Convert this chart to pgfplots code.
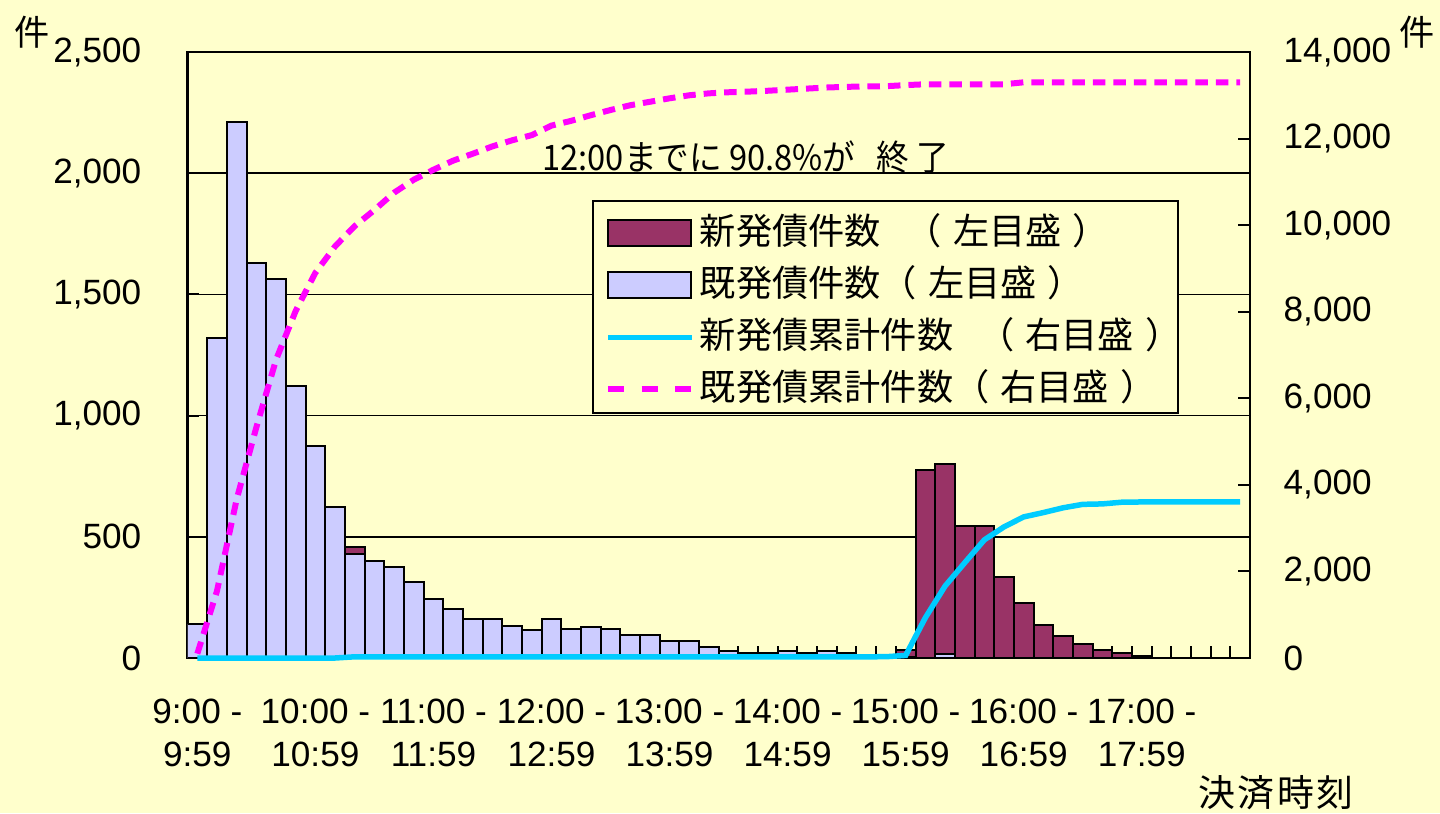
\documentclass[border=0pt]{standalone}
\usepackage{pgfplots}
\usepackage{pgfplotstable}
\pgfplotsset{compat=1.18}
\usepackage{fontspec}
\setmainfont{Liberation Sans}
\newfontfamily\jp{Noto Sans CJK JP}

\definecolor{bgc}{RGB}{255,255,204}
\definecolor{newc}{RGB}{153,51,102}
\definecolor{oldc}{RGB}{204,204,255}
\definecolor{cumnew}{RGB}{0,204,255}
\definecolor{cumold}{RGB}{255,0,255}

% 10-minute bins, 9:00 - 17:59
\pgfplotstableread{
bin old new cumold cumnew
1 140 0 100 0
2 1322 0 1550 0
3 2210 0 3670 0
4 1628 0 5330 0
5 1563 0 6890 0
6 1121 0 8020 0
7 873 0 8900 0
8 624 0 9510 0
9 430 28 9980 28
10 400 0 10350 28
11 375 0 10750 28
12 314 0 11050 28
13 242 0 11280 28
14 201 0 11490 28
15 160 0 11650 28
16 160 0 11820 28
17 133 0 11960 28
18 115 0 12080 28
19 160 0 12300 28
20 119 0 12410 28
21 129 0 12540 28
22 119 0 12660 28
23 96 0 12770 28
24 96 0 12850 28
25 71 0 12930 28
26 71 0 13000 28
27 47 0 13045 28
28 30 0 13070 28
29 20 0 13085 28
30 20 0 13105 28
31 30 0 13130 28
32 20 0 13155 28
33 30 0 13180 28
34 20 0 13195 28
35 10 0 13205 28
36 10 0 13210 30
37 5 30 13235 60
38 0 775 13255 930
39 18 782 13255 1660
40 0 545 13255 2200
41 0 545 13255 2730
42 0 334 13255 3030
43 0 227 13300 3260
44 0 136 13300 3360
45 0 91 13300 3470
46 0 58 13300 3550
47 0 33 13300 3560
48 0 19 13300 3600
49 0 8 13300 3605
50 0 0 13300 3605
51 0 0 13300 3605
52 0 0 13300 3605
53 0 0 13300 3605
54 0 0 13300 3605
}\bins

\newcommand{\lp}{（\hspace{1.1mm}}
\newcommand{\rp}{\hspace{1.1mm}）\hspace{-1.5mm}}
\newcommand{\legtxt}[1]{\raisebox{-0.45mm}{#1}}

\begin{document}
\begin{tikzpicture}
\fill[bgc] (-18.75mm,-15.5mm) rectangle (125.25mm,65.8mm);

% left axis: counts per bin
\begin{axis}[
    at={(0,0)}, anchor=south west, scale only axis,
    width=106.25mm, height=60.6mm,
    xmin=0.5, xmax=54.5, ymin=0, ymax=2500,
    ybar stacked, bar width=1,
    axis line style={black, line width=0.22mm},
    tick align=inside,
    tick style={black, line width=0.2mm},
    major tick length=1.2mm, minor tick length=1.2mm,
    xtick pos=bottom, ytick pos=left,
    xtick={1,7,...,49},
    minor xtick={0.5,1.5,...,54.5},
    major x tick style={draw=none},
    xticklabels={{9:00 -\\9:59},{10:00 -\\10:59},{11:00 -\\11:59},{12:00 -\\12:59},{13:00 -\\13:59},{14:00 -\\14:59},{15:00 -\\15:59},{16:00 -\\16:59},{17:00 -\\17:59}},
    xticklabel style={inner sep=0pt, yshift=-4mm, align=center, font=\fontsize{10}{12.4}\selectfont},
    ytick={0,500,...,2500},
    scaled y ticks=false,
    yticklabel style={inner sep=0pt, xshift=-4.55mm, font=\fontsize{10}{12}\selectfont},
    /pgf/number format/1000 sep={,},
    /pgf/number format/assume math mode=true,
    ymajorgrids, grid style={black, line width=0.15mm},
]
\addplot[fill=oldc, draw=black, line width=0.2mm] table[x=bin, y=old] {\bins};
\addplot[fill=newc, draw=black, line width=0.2mm] table[x=bin, y=new] {\bins};
\end{axis}

% right axis: cumulative counts
\begin{axis}[
    at={(0,0)}, anchor=south west, scale only axis,
    width=106.25mm, height=60.6mm,
    xmin=0.5, xmax=54.5, ymin=0, ymax=14000,
    axis x line=none, axis y line*=right,
    axis line style={black, line width=0.22mm},
    tick align=inside,
    tick style={black, line width=0.2mm},
    major tick length=1.2mm,
    ytick={0,2000,...,14000},
    scaled y ticks=false,
    yticklabel style={inner sep=0pt, xshift=3.3mm, font=\fontsize{10}{12}\selectfont},
    /pgf/number format/1000 sep={,},
    /pgf/number format/assume math mode=true,
    clip=false,
    legend cell align=left,
    legend style={at={(0.3807,0.7558)}, anchor=north west,
        draw=black, line width=0.2mm, fill=bgc,
        inner xsep=1.2mm, inner ysep=0.2mm,
        row sep=0pt, column sep=0.5mm,
        font=\jp\fontsize{10.3}{12}\selectfont,
        nodes={inner sep=0pt, text height=3.75mm, text depth=1.45mm}},
]
\addlegendimage{legend image code/.code={\draw[fill=newc, draw=black, line width=0.2mm] (0mm,-1.75mm) rectangle (8.3mm,0.85mm);}}
\addlegendentry{\legtxt{新発債件数\hspace{2.5mm}\lp 左目盛\rp}}
\addlegendimage{legend image code/.code={\draw[fill=oldc, draw=black, line width=0.2mm] (0mm,-1.75mm) rectangle (8.3mm,0.85mm);}}
\addlegendentry{\legtxt{既発債件数\lp 左目盛\rp}}
\addlegendimage{legend image code/.code={\draw[cumnew, line width=0.55mm] (0mm,-0.45mm) -- (8.4mm,-0.45mm);}}
\addlegendentry{\legtxt{新発債累計件数\hspace{2.5mm}\lp 右目盛\rp}}
\addlegendimage{legend image code/.code={\draw[cumold, line width=0.6mm, dash pattern=on 1.6mm off 1.75mm] (0mm,-0.45mm) -- (8.4mm,-0.45mm);}}
\addlegendentry{\legtxt{既発債累計件数\lp 右目盛\rp}}

\addplot[cumnew, line width=0.55mm, forget plot] table[x=bin, y=cumnew] {\bins};
\addplot[cumold, line width=0.6mm, dash pattern=on 1.25mm off 0.8mm, forget plot] table[x=bin, y=cumold] {\bins};
\end{axis}

\node[font=\jp\fontsize{10}{12}\selectfont] at (-15.55mm,62.6mm) {件};
\node[font=\jp\fontsize{10}{12}\selectfont] at (122.95mm,62.6mm) {件};
\node[font=\jp\fontsize{10.5}{12}\selectfont] at (108.85mm,-13.5mm) {決\kern0.25mm 済\kern0.25mm 時\kern0.25mm 刻};
\node[font=\jp\fontsize{10}{12}\selectfont] at (55.85mm,50.1mm) {\scalebox{0.93}[1]{12:00までに 90.8\%が\hspace{1.5mm} 終 了}};

\pgfresetboundingbox
\path (-18.75mm,-15.5mm) rectangle (125.25mm,65.8mm);
\end{tikzpicture}
\end{document}
